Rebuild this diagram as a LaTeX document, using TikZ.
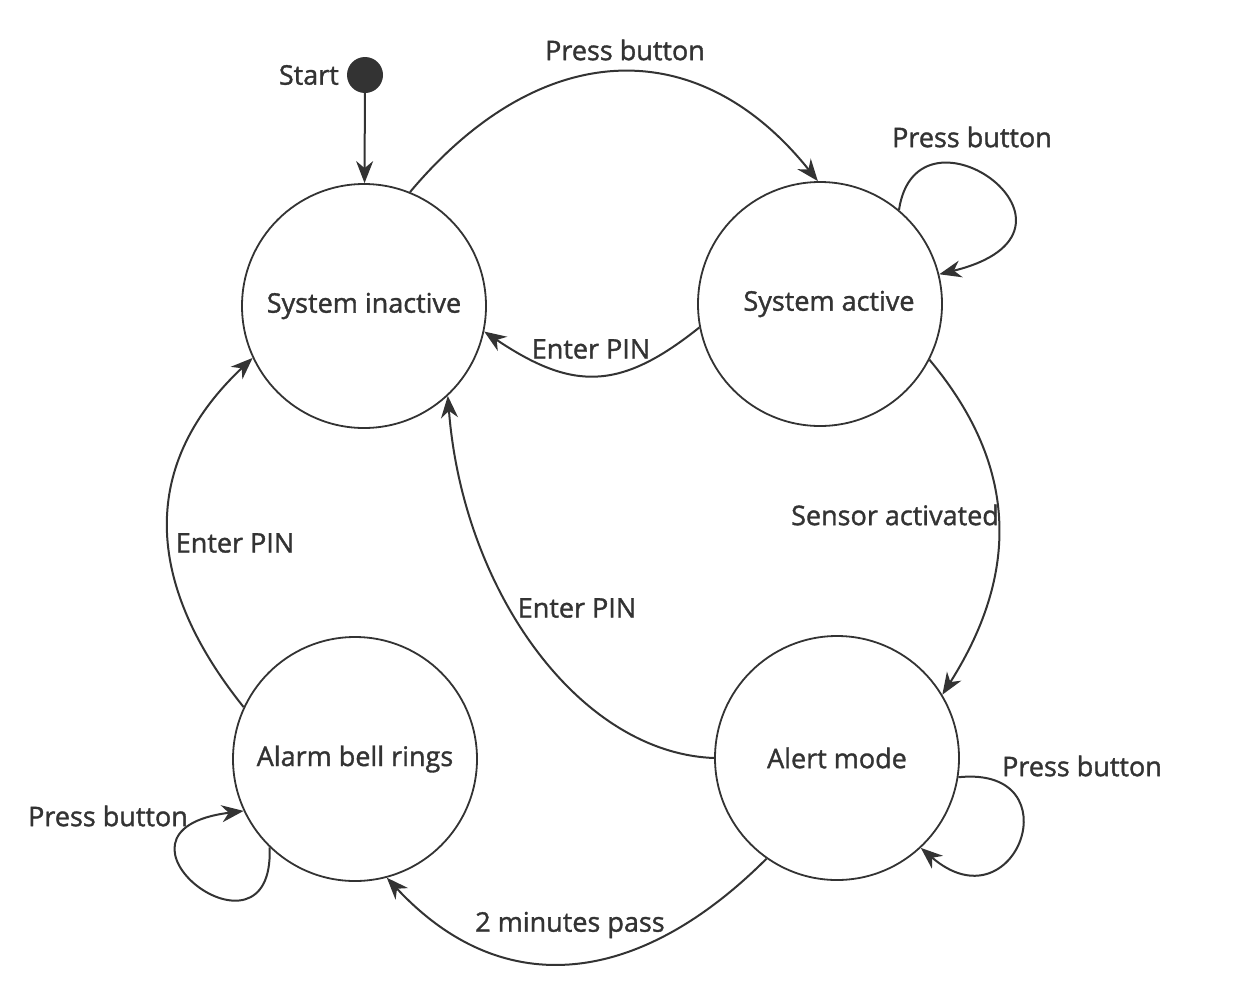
\documentclass[tikz,border=0pt]{standalone}
\usepackage{fontspec}
\setmainfont{Open Sans}
\newfontfamily\lblfont{Open Sans}[UprightFeatures={FakeBold=1.3}]
\usetikzlibrary{arrows.meta}
\definecolor{ink}{HTML}{333333}
\begin{document}
\begin{tikzpicture}[x=1pt,y=-1pt,
  state/.style={circle,draw=ink,line width=1.8pt,minimum size=244pt,inner sep=0pt,text=ink,font=\lblfont\fontsize{27}{31}\selectfont},
  lbl/.style={text=ink,font=\lblfont\fontsize{27}{31}\selectfont,inner sep=0pt},
  edge/.style={draw=ink,line width=2pt,-{Stealth[length=22pt,width=17pt,inset=7pt]}}]
\useasboundingbox (0,0) rectangle (1253,996);
\node[state] (inactive) at (364,306) {System inactive};
\node[state] (active) at (820,304) {\hspace*{18pt}System active};
\node[state] (alarm) at (355,759) {Alarm bell rings};
\node[state] (alert) at (837,758) {Alert mode};
\node[circle,fill=ink,minimum size=36pt,inner sep=0pt] (start) at (365,75) {};
\node[lbl,anchor=east] (startlbl) at (339,75) {Start};

\draw[edge] (start) -- (inactive);
\draw[edge] (inactive.68) .. controls +(130,-155) and +(-120,-150) .. (active.91);
\draw[edge] (active.50) .. controls +(18,-120) and +(175,-43) .. (active.14);
\draw[edge] (active.191) .. controls +(-80,64) and +(88,59) .. (inactive.-12);
\draw[edge] (active.-27) .. controls +(77,92) and +(87,-137) .. (alert.31);
\draw[edge] (alert.180) .. controls +(-135,-5) and +(15,195) .. (inactive.-47);
\draw[edge] (alert.-9) .. controls +(117,-12) and +(95,82) .. (alert.-47);
\draw[edge] (alert.235) .. controls +(-125,125) and +(118,127) .. (alarm.-75);
\draw[edge] (alarm.226) .. controls +(5,130) and +(-160,20) .. (alarm.205);
\draw[edge] (alarm.155) .. controls +(-94,-117) and +(-119,112) .. (inactive.205);

\node[lbl] (pb1) at (625,50) {Press button};
\node[lbl] (pb2) at (972,137) {Press button};
\node[lbl] (ep1) at (591,349) {Enter PIN};
\node[lbl] (sa) at (895,515) {Sensor activated};
\node[lbl] (ep2) at (235,543) {Enter PIN};
\node[lbl] (ep3) at (577,608) {Enter PIN};
\node[lbl] (pb3) at (1082,766) {Press button};
\node[lbl] (pb4) at (108,816) {Press button};
\node[lbl] (tmp) at (570,925) {2 minutes pass};
\end{tikzpicture}
\end{document}
